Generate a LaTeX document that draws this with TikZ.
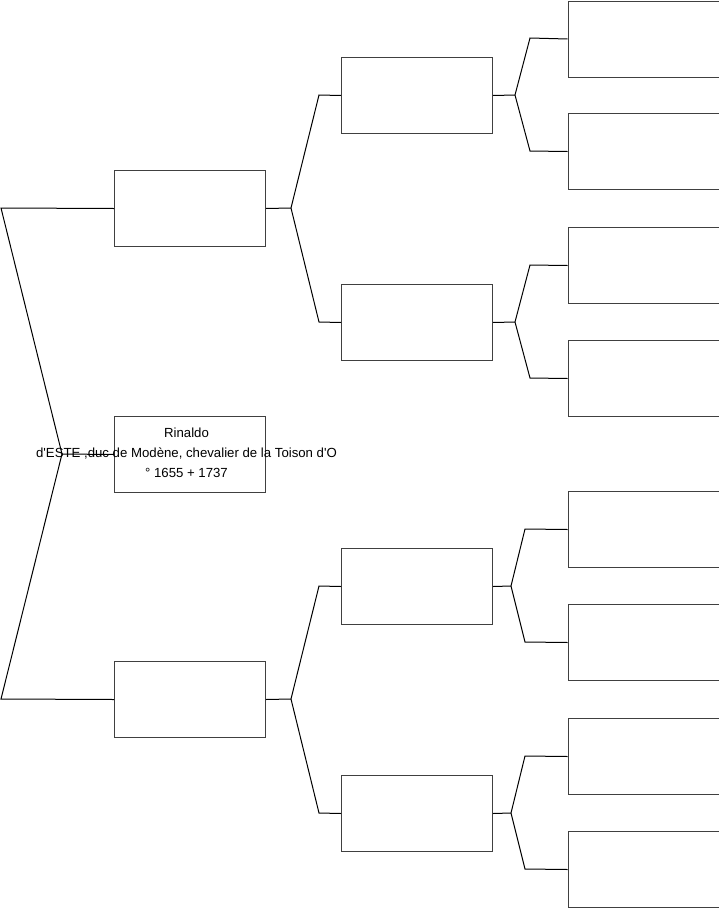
\documentclass[tikz,border=0pt]{standalone}
\usepackage{fontspec}
\setmainfont{Liberation Sans}
\begin{document}
\begin{tikzpicture}[x=1pt,y=-1pt,
  pbox/.style={draw=black!75,line width=1pt,minimum width=151pt,minimum height=76pt,inner sep=0pt,anchor=north west},
  conn/.style={draw=black,line width=1pt},
  lbl/.style={font=\fontsize{13.2}{20}\selectfont,align=center}]
\useasboundingbox (0,0) rectangle (719,908);
% level 1
\node[pbox] (f) at (114,170) {};
\node[pbox] (r) at (114,416) {};
\node[pbox] (m) at (114,661) {};
\node[lbl] (rt) at (186.5,453) {Rinaldo\\d\textquotesingle ESTE ,duc de Modène, chevalier de la Toison d\textquotesingle O\\° 1655 + 1737};
% level 2
\node[pbox] (ff) at (341,57) {};
\node[pbox] (fm) at (341,284) {};
\node[pbox] (mf) at (341,548) {};
\node[pbox] (mm) at (341,775) {};
% level 3
\node[pbox] (fff) at (567.5,0.5) {};
\node[pbox] (ffm) at (567.5,113) {};
\node[pbox] (fmf) at (567.5,227) {};
\node[pbox] (fmm) at (567.5,340) {};
\node[pbox] (mff) at (567.5,491) {};
\node[pbox] (mfm) at (567.5,604) {};
\node[pbox] (mmf) at (567.5,718) {};
\node[pbox] (mmm) at (567.5,831) {};
% coordinates
\coordinate (a0) at (62,454);
\coordinate (a1) at (1,208);
\coordinate (a2) at (1,699);
\coordinate (b0) at (291,208);
\coordinate (b1) at (319,95);
\coordinate (b2) at (319,322);
\coordinate (c0) at (291,699);
\coordinate (c1) at (319,586);
\coordinate (c2) at (319,813);
\coordinate (d0) at (515,95);
\coordinate (d1) at (530,38);
\coordinate (d2) at (530,151);
\coordinate (e0) at (515,322);
\coordinate (e1) at (530,265);
\coordinate (e2) at (530,378);
\coordinate (g0) at (511,586);
\coordinate (g1) at (525,529);
\coordinate (g2) at (525,642);
\coordinate (h0) at (511,813);
\coordinate (h1) at (525,756);
\coordinate (h2) at (525,869);
% connectors
\draw[conn] (r.west) -- (a0);
\draw[conn] (f.west) -- (a1) -- (a0) -- (a2) -- (m.west);
\draw[conn] (f.east) -- (b0);
\draw[conn] (ff.west) -- (b1) -- (b0) -- (b2) -- (fm.west);
\draw[conn] (m.east) -- (c0);
\draw[conn] (mf.west) -- (c1) -- (c0) -- (c2) -- (mm.west);
\draw[conn] (ff.east) -- (d0);
\draw[conn] (fff.west) -- (d1) -- (d0) -- (d2) -- (ffm.west);
\draw[conn] (fm.east) -- (e0);
\draw[conn] (fmf.west) -- (e1) -- (e0) -- (e2) -- (fmm.west);
\draw[conn] (mf.east) -- (g0);
\draw[conn] (mff.west) -- (g1) -- (g0) -- (g2) -- (mfm.west);
\draw[conn] (mm.east) -- (h0);
\draw[conn] (mmf.west) -- (h1) -- (h0) -- (h2) -- (mmm.west);
\end{tikzpicture}
\end{document}
